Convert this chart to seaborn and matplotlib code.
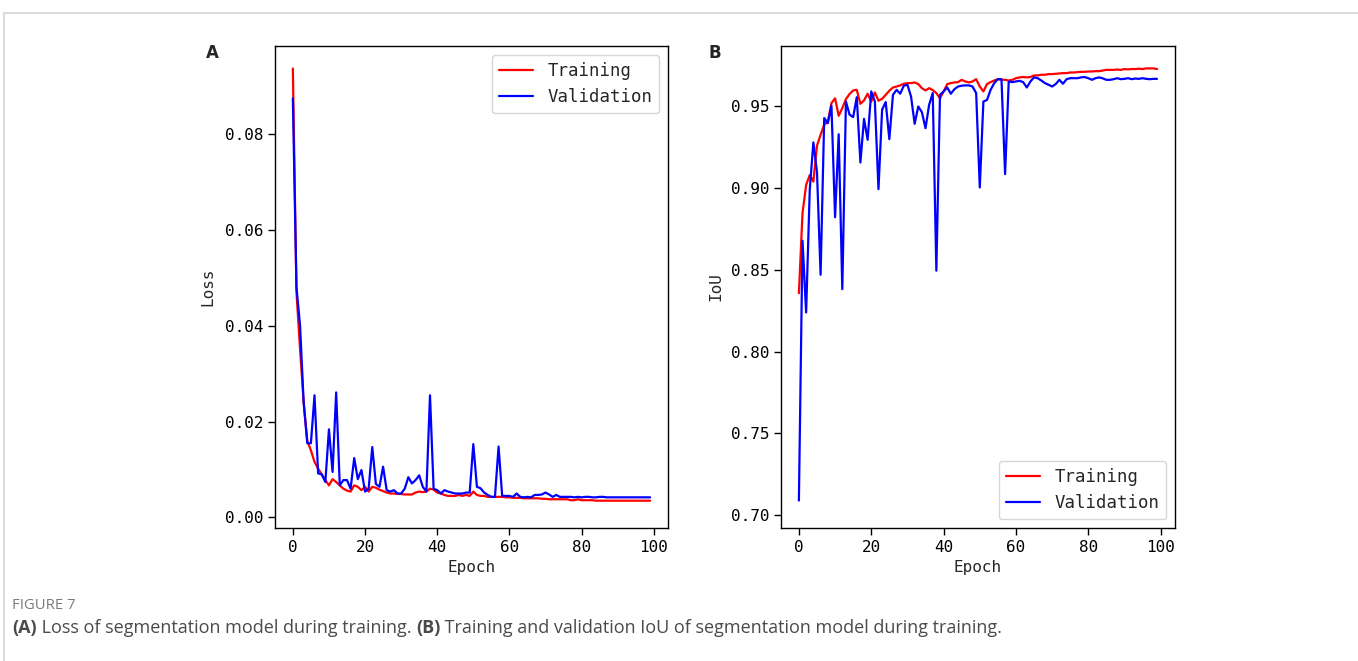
import numpy as np
import pandas as pd
import seaborn as sns
import matplotlib.pyplot as plt
from matplotlib.lines import Line2D

# values (100 epochs)
epochs = list(range(100))

loss_train = [
    0.0937, 0.0470, 0.0350, 0.0240, 0.0160, 0.0140, 0.0116, 0.0102, 0.0090, 0.0078,
    0.0067, 0.0080, 0.0074, 0.0067, 0.0060, 0.0056, 0.0054, 0.0067, 0.0064, 0.0057,
    0.0064, 0.0054, 0.0064, 0.0062, 0.0058, 0.0055, 0.0052, 0.0050, 0.0050, 0.0049,
    0.0049, 0.0048, 0.0048, 0.0048, 0.0052, 0.0054, 0.0053, 0.0054, 0.0060, 0.0058,
    0.0052, 0.0050, 0.0047, 0.0045, 0.0045, 0.0045, 0.0047, 0.0045, 0.0047, 0.0045,
    0.0054, 0.0047, 0.0045, 0.0045, 0.0043, 0.0043, 0.0043, 0.0043, 0.0043, 0.0042,
    0.0042, 0.0041, 0.0041, 0.0041, 0.0040, 0.0040, 0.0040, 0.0040, 0.0040, 0.0039,
    0.0039, 0.0038, 0.0038, 0.0038, 0.0038, 0.0038, 0.0038, 0.0036, 0.0036, 0.0038,
    0.0036, 0.0036, 0.0036, 0.0036, 0.0035, 0.0035, 0.0035, 0.0035, 0.0035, 0.0035,
    0.0035, 0.0035, 0.0035, 0.0035, 0.0035, 0.0035, 0.0035, 0.0035, 0.0035, 0.0035,
]
loss_val = [
    0.0875, 0.0481, 0.0400, 0.0239, 0.0155, 0.0155, 0.0255, 0.0092, 0.0090, 0.0074,
    0.0184, 0.0095, 0.0261, 0.0067, 0.0078, 0.0078, 0.0060, 0.0124, 0.0080, 0.0099,
    0.0054, 0.0060, 0.0147, 0.0070, 0.0064, 0.0106, 0.0057, 0.0054, 0.0057, 0.0050,
    0.0050, 0.0060, 0.0084, 0.0071, 0.0078, 0.0088, 0.0064, 0.0054, 0.0255, 0.0060,
    0.0057, 0.0050, 0.0057, 0.0054, 0.0052, 0.0050, 0.0050, 0.0050, 0.0052, 0.0052,
    0.0153, 0.0064, 0.0061, 0.0052, 0.0047, 0.0043, 0.0043, 0.0148, 0.0045, 0.0045,
    0.0045, 0.0043, 0.0050, 0.0043, 0.0042, 0.0043, 0.0042, 0.0047, 0.0047, 0.0048,
    0.0052, 0.0048, 0.0043, 0.0047, 0.0043, 0.0043, 0.0043, 0.0043, 0.0042, 0.0043,
    0.0042, 0.0043, 0.0043, 0.0042, 0.0042, 0.0043, 0.0043, 0.0042, 0.0042, 0.0042,
    0.0042, 0.0042, 0.0042, 0.0042, 0.0042, 0.0042, 0.0042, 0.0042, 0.0042, 0.0042,
]

iou_train = [
    0.8357, 0.8847, 0.9020, 0.9080, 0.9040, 0.9260, 0.9327, 0.9388, 0.9408, 0.9520,
    0.9550, 0.9443, 0.9490, 0.9545, 0.9576, 0.9598, 0.9602, 0.9516, 0.9537, 0.9578,
    0.9530, 0.9586, 0.9535, 0.9547, 0.9571, 0.9596, 0.9616, 0.9622, 0.9629, 0.9639,
    0.9643, 0.9643, 0.9647, 0.9637, 0.9612, 0.9598, 0.9612, 0.9600, 0.9582, 0.9550,
    0.9592, 0.9637, 0.9643, 0.9647, 0.9649, 0.9663, 0.9653, 0.9647, 0.9653, 0.9667,
    0.9622, 0.9592, 0.9637, 0.9649, 0.9659, 0.9667, 0.9663, 0.9663, 0.9659, 0.9663,
    0.9673, 0.9678, 0.9680, 0.9678, 0.9680, 0.9690, 0.9690, 0.9694, 0.9694, 0.9698,
    0.9698, 0.9700, 0.9702, 0.9704, 0.9704, 0.9708, 0.9708, 0.9710, 0.9712, 0.9712,
    0.9714, 0.9714, 0.9716, 0.9716, 0.9720, 0.9724, 0.9724, 0.9724, 0.9726, 0.9724,
    0.9729, 0.9727, 0.9729, 0.9729, 0.9731, 0.9729, 0.9733, 0.9733, 0.9733, 0.9729,
]
iou_val = [
    0.7088, 0.8678, 0.8239, 0.8990, 0.9280, 0.9100, 0.8470, 0.9429, 0.9398, 0.9504,
    0.8822, 0.9330, 0.8382, 0.9530, 0.9450, 0.9435, 0.9557, 0.9157, 0.9424, 0.9296,
    0.9592, 0.9530, 0.8994, 0.9480, 0.9527, 0.9300, 0.9571, 0.9602, 0.9578, 0.9627,
    0.9633, 0.9561, 0.9394, 0.9500, 0.9465, 0.9367, 0.9510, 0.9582, 0.8495, 0.9571,
    0.9592, 0.9616, 0.9578, 0.9606, 0.9622, 0.9627, 0.9629, 0.9629, 0.9622, 0.9582,
    0.9004, 0.9530, 0.9540, 0.9602, 0.9643, 0.9667, 0.9667, 0.9086, 0.9653, 0.9649,
    0.9653, 0.9657, 0.9649, 0.9616, 0.9653, 0.9678, 0.9673, 0.9659, 0.9643, 0.9633,
    0.9622, 0.9637, 0.9663, 0.9639, 0.9667, 0.9673, 0.9673, 0.9673, 0.9678, 0.9680,
    0.9673, 0.9663, 0.9673, 0.9678, 0.9672, 0.9663, 0.9663, 0.9667, 0.9673, 0.9667,
    0.9669, 0.9673, 0.9667, 0.9671, 0.9669, 0.9673, 0.9669, 0.9667, 0.9669, 0.9669,
]

series_names = ['Training', 'Validation']
colors = {'Training': 'red', 'Validation': 'blue'}


def to_long(train, val, col):
    return pd.DataFrame({
        'Epoch': epochs * 2,
        col: list(train) + list(val),
        'Set': ['Training'] * len(train) + ['Validation'] * len(val),
    })


sns.set_style('ticks')
plt.rcParams['font.family'] = ['DejaVu Sans Mono']
plt.rcParams['font.size'] = 11.5
plt.rcParams['axes.linewidth'] = 1.0

fig = plt.figure(figsize=(13.58, 6.61), dpi=100)
ax1 = fig.add_axes([0.2025, 0.2012, 0.2894, 0.7292])
ax2 = fig.add_axes([0.5751, 0.2012, 0.2901, 0.7292])

df_loss = to_long(loss_train, loss_val, 'Loss')
sns.lineplot(data=df_loss, x='Epoch', y='Loss', hue='Set', palette=colors,
             hue_order=series_names, linewidth=1.6, ax=ax1)
df_iou = to_long(iou_train, iou_val, 'IoU')
sns.lineplot(data=df_iou, x='Epoch', y='IoU', hue='Set', palette=colors,
             hue_order=series_names, linewidth=1.6, ax=ax2)

ax1.set_ylim(-0.0022, 0.0984)
ax2.set_ylim(0.692, 0.987)
ax1.set_xticks([0, 20, 40, 60, 80, 100])
ax2.set_xticks([0, 20, 40, 60, 80, 100])
ax1.set_yticks([0.0, 0.02, 0.04, 0.06, 0.08])
ax1.yaxis.set_major_formatter(plt.FormatStrFormatter('%.2f'))
ax2.set_yticks([0.70, 0.75, 0.80, 0.85, 0.90, 0.95])
ax2.yaxis.set_major_formatter(plt.FormatStrFormatter('%.2f'))

for ax in (ax1, ax2):
    for s in ax.spines.values():
        s.set_visible(True)
        s.set_color('black')
    ax.tick_params(length=5, width=1, colors='black', labelsize=11.5)
    ax.set_xlabel('Epoch', fontsize=11.5)

ax1.set_ylabel('Loss', fontsize=11.5, labelpad=7)
ax2.set_ylabel('IoU', fontsize=11.5, labelpad=5)

ax1.legend(loc='upper right', title=None, fontsize=12.5)
ax2.legend(loc='lower right', title=None, fontsize=12.5)

fig.text(0.152, 0.913, 'A', fontsize=12, fontweight='bold', family='DejaVu Sans')
fig.text(0.522, 0.913, 'B', fontsize=12, fontweight='bold', family='DejaVu Sans')

# card border of the figure page
fig.add_artist(Line2D([0.003, 1.0], [0.980, 0.980], color='#d4d4d4', lw=1.2))
fig.add_artist(Line2D([0.003, 0.003], [0.0, 0.980], color='#d4d4d4', lw=1.2))

fig.text(0.0088, 0.079, 'FIGURE 7', fontsize=10.7, color='#7a7a7a', family='Open Sans')
cap_y = 0.043
cap_size = 13
t = fig.text(0.0088, cap_y, '(A)', fontsize=cap_size, color='#4a4a4a', family='Open Sans',
             fontweight='bold')
fig.canvas.draw()
r = fig.canvas.get_renderer()
x = 0.0088 + t.get_window_extent(r).width / fig.bbox.width
t = fig.text(x, cap_y, ' Loss of segmentation model during training. ', fontsize=cap_size,
             color='#4a4a4a', family='Open Sans')
x += t.get_window_extent(r).width / fig.bbox.width
t = fig.text(x, cap_y, '(B)', fontsize=cap_size, color='#4a4a4a', family='Open Sans',
             fontweight='bold')
x += t.get_window_extent(r).width / fig.bbox.width
fig.text(x, cap_y, ' Training and validation IoU of segmentation model during training.',
         fontsize=cap_size, color='#4a4a4a', family='Open Sans')

fig.savefig('out.png', dpi=100)
